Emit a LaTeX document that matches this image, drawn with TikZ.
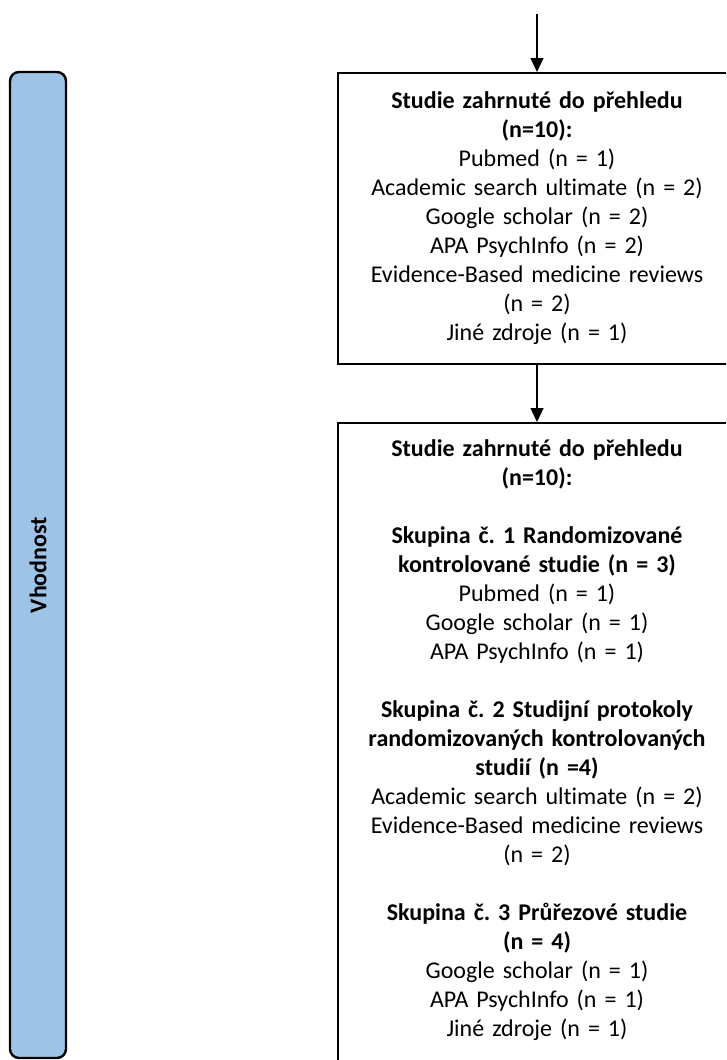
\documentclass[tikz,border=0pt]{standalone}
\usepackage{fontspec}
\setmainfont{Carlito}[RawFeature={-liga;-clig;-calt}]
\usepackage{tikz}
\usetikzlibrary{arrows.meta}
\frenchspacing
\definecolor{phaseblue}{HTML}{9DC3E6}
\tikzset{
  phasebar/.style={draw, line width=2.4pt, rounded corners=9pt, fill=phaseblue},
  studybox/.style={draw, line width=2.2pt, anchor=north, minimum width=398pt,
    text width=384pt, align=center, inner sep=0pt,
    font=\fontsize{24}{29}\selectfont},
  flow/.style={line width=1.2pt, -{Triangle[width=13pt,length=14pt]}}
}
\begin{document}
\begin{tikzpicture}[x=1pt,y=-1pt]
  \clip (0,0) rectangle (726,1060);
  \fill[white] (0,0) rectangle (726,1060);

  \draw[phasebar] (10,72) rectangle (66,1058);
  \node (vhodnost) at (38,565) [rotate=90, font=\fontsize{24}{29}\selectfont\bfseries] {Vhodnost};

  \coordinate (start) at (537,14);
  \node (included) at (537,72) [studybox, minimum height=291pt]
    {\textbf{Studie zahrnuté do přehledu}\\
     \textbf{(n=10):}\\
     Pubmed (n = 1)\\
     Academic search ultimate (n = 2)\\
     Google scholar (n = 2)\\
     APA PsychInfo (n = 2)\\
     Evidence-Based medicine reviews\\
     (n = 2)\\
     Jiné zdroje (n = 1)};
  % box runs past the bottom edge of the page
  \node (groups) at (537,422) [studybox, minimum height=684pt]
    {\textbf{Studie zahrnuté do přehledu}\\
     \textbf{(n=10):}\\[29pt]
     \textbf{Skupina č. 1 Randomizované}\\
     \textbf{kontrolované studie (n = 3)}\\
     Pubmed (n = 1)\\
     Google scholar (n = 1)\\
     APA PsychInfo (n = 1)\\[29pt]
     \textbf{Skupina č. 2 Studijní protokoly}\\
     \textbf{randomizovaných kontrolovaných}\\
     \textbf{studií (n =4)}\\
     Academic search ultimate (n = 2)\\
     Evidence-Based medicine reviews\\
     (n = 2)\\[29pt]
     \textbf{Skupina č. 3 Průřezové studie}\\
     \textbf{(n = 4)}\\
     Google scholar (n = 1)\\
     APA PsychInfo (n = 1)\\
     Jiné zdroje (n = 1)\\[25pt]
     \mbox{}};

  \draw[flow] (start) -- (included.north);
  \draw[flow] (included.south) -- (groups.north);
\end{tikzpicture}
\end{document}
